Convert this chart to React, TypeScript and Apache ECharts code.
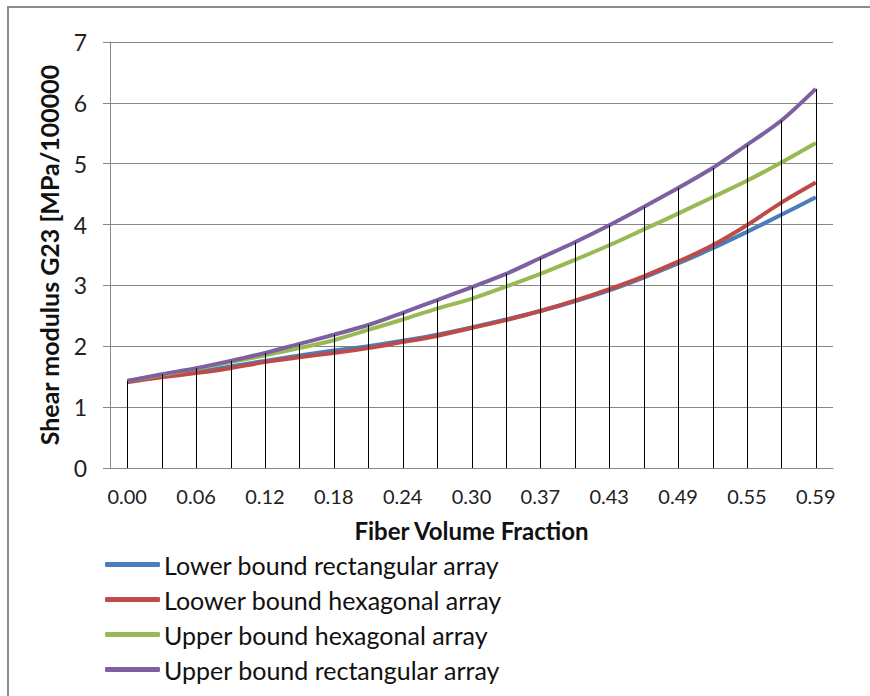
import React, { useEffect, useRef } from "react";
import * as echarts from "echarts";

const categories = [
  "0.00", "0.03", "0.06", "0.09", "0.12", "0.15", "0.18", "0.21", "0.24", "0.27", "0.30",
  "0.34", "0.37", "0.40", "0.43", "0.46", "0.49", "0.52", "0.55", "0.57", "0.59",
];

const lowerRect = [
  1.43, 1.51, 1.58, 1.67, 1.76, 1.85, 1.93, 2.0, 2.09, 2.19, 2.31,
  2.44, 2.58, 2.74, 2.92, 3.13, 3.36, 3.61, 3.88, 4.16, 4.45,
];
const lowerHex = [
  1.41, 1.49, 1.56, 1.64, 1.74, 1.82, 1.89, 1.97, 2.07, 2.17, 2.3,
  2.43, 2.58, 2.75, 2.94, 3.15, 3.39, 3.66, 3.99, 4.36, 4.69,
];
const upperHex = [
  1.43, 1.53, 1.63, 1.74, 1.85, 1.97, 2.1, 2.27, 2.44, 2.62, 2.78,
  2.98, 3.19, 3.42, 3.66, 3.92, 4.18, 4.45, 4.72, 5.02, 5.34,
];
const upperRect = [
  1.43, 1.54, 1.64, 1.76, 1.89, 2.04, 2.19, 2.35, 2.55, 2.76, 2.97,
  3.19, 3.45, 3.71, 3.99, 4.29, 4.6, 4.93, 5.31, 5.71, 6.23,
];

const seriesNames = [
  "Lower bound rectangular array",
  "Loower bound hexagonal array",
  "Upper bound hexagonal array",
  "Upper bound rectangular array",
];
const seriesColors = ["#4A7EBB", "#BE4B48", "#98B954", "#7D60A0"];

const FONT = "Lato, 'Open Sans', sans-serif";

export default function App() {
  const ref = useRef<HTMLDivElement>(null);
  useEffect(() => {
    if (!ref.current) return;
    const chart = echarts.init(ref.current, undefined, { renderer: "svg" });
    const all = [lowerRect, lowerHex, upperHex, upperRect];
    const dropData = categories.map((_, i) => [i, Math.max(...all.map((a) => a[i]))]);
    chart.setOption({
      animation: false,
      backgroundColor: "#ffffff",
      textStyle: { fontFamily: FONT },
      graphic: [
        {
          type: "rect",
          shape: { x: 8, y: 7, width: 880, height: 720 },
          style: { fill: "none", stroke: "#8c8c8c", lineWidth: 2 },
          silent: true,
        },
      ],
      grid: { left: 110, top: 42, right: 37, bottom: 228, containLabel: false },
      xAxis: {
        type: "category",
        data: categories,
        boundaryGap: true,
        axisLine: { show: true, lineStyle: { color: "#868686", width: 1 } },
        axisTick: { show: false },
        axisLabel: {
          interval: 1,
          color: "#222",
          fontSize: 20,
          fontFamily: FONT,
          margin: 18,
        },
        splitLine: { show: false },
        name: "Fiber Volume Fraction",
        nameLocation: "middle",
        nameGap: 50,
        nameTextStyle: { fontSize: 24, fontWeight: "bold", color: "#111", fontFamily: FONT },
      },
      yAxis: {
        type: "value",
        min: 0,
        max: 7,
        interval: 1,
        axisLine: { show: true, lineStyle: { color: "#868686", width: 1 } },
        axisTick: { show: true, length: 7, lineStyle: { color: "#868686" } },
        axisLabel: { color: "#222", fontSize: 23, fontFamily: FONT, margin: 23 },
        splitLine: { show: true, lineStyle: { color: "#868686", width: 1 } },
        name: "Shear modulus G23 [MPa/100000",
        nameLocation: "middle",
        nameGap: 49,
        nameTextStyle: { fontSize: 25, fontWeight: "bold", color: "#111", fontFamily: FONT },
      },
      legend: {
        orient: "vertical",
        left: 105,
        top: 552,
        padding: 0,
        itemWidth: 55,
        itemHeight: 5,
        itemGap: 10,
        icon: "roundRect",
        data: seriesNames,
        textStyle: { fontSize: 25, color: "#111", fontFamily: FONT, padding: [0, 0, 0, -1] },
      },
      series: [
        ...all.map((d, k) => ({
          name: seriesNames[k],
          type: "line",
          data: d,
          smooth: 0.3,
          showSymbol: false,
          symbol: "none",
          lineStyle: { color: seriesColors[k], width: 4 },
          itemStyle: { color: seriesColors[k] },
          z: 2 + k * 0.1,
        })),
        {
          type: "custom",
          name: "drop",
          silent: true,
          z: 5,
          data: dropData,
          renderItem: (params: any, api: any) => {
            const top = api.coord([api.value(0), api.value(1)]);
            const bottom = api.coord([api.value(0), 0]);
            const x = Math.round(top[0]) + 0.5;
            return {
              type: "line",
              shape: { x1: x, y1: top[1], x2: x, y2: bottom[1] },
              style: { stroke: "#000", lineWidth: 1 },
            };
          },
        },
      ],
    });
    return () => chart.dispose();
  }, []);
  return <div ref={ref} style={{ width: 870, height: 696, position: "absolute", left: 0, top: 0 }} />;
}
